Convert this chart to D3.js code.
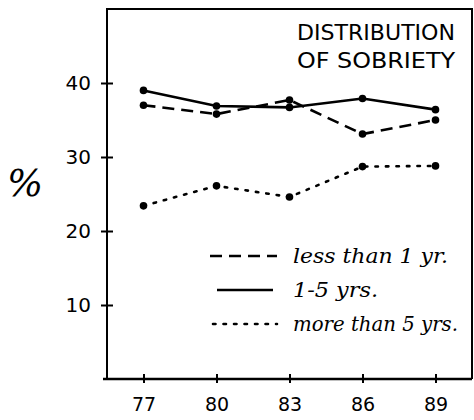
<!DOCTYPE html>
<html><head><meta charset="utf-8">
<script src="https://cdn.jsdelivr.net/npm/d3@7/dist/d3.min.js"></script>
<style>body{margin:0;background:#fff}svg{display:block}</style>
</head><body>
<svg id="c" width="474" height="420"></svg>
<script>
const years = [77, 80, 83, 86, 89];
const yTicks = [10, 20, 30, 40];
const lessThan1 = [37, 35.8, 37.7, 33.1, 35];
const oneToFive = [39, 36.9, 36.7, 37.9, 36.4];
const moreThan5 = [23.4, 26.1, 24.6, 28.7, 28.8];
const seriesNames = ["less than 1 yr.", "1-5 yrs.", "more than 5 yrs."];
const titleLines = ["DISTRIBUTION", "OF SOBRIETY"];

const svg = d3.select("#c");
const x = d3.scaleLinear().domain([75.5, 90.5]).range([107, 472]);
const y = d3.scaleLinear().domain([0, 50]).range([379, 9]);

const styles = [
  {dash: "12,7", w: 2.6},
  {dash: null, w: 2.6},
  {dash: "2.5,8", w: 2.6}
];
const series = [lessThan1, oneToFive, moreThan5];

// frame
svg.append("path").attr("d", `M${x.range()[0]},${y(0)} V${y.range()[1]} H${x.range()[1]} V${y(0)}`)
  .attr("fill","none").attr("stroke","#000").attr("stroke-width",2);
svg.append("line").attr("x1",103).attr("x2",472).attr("y1",y(0)).attr("y2",y(0))
  .attr("stroke","#000").attr("stroke-width",2.5);

// y axis ticks
const yAxis = d3.axisLeft(y).tickValues(yTicks).tickSize(0).tickPadding(16);
const gy = svg.append("g").attr("transform",`translate(${x.range()[0]},0)`).call(yAxis);
gy.select(".domain").remove();
gy.selectAll(".tick").append("line").attr("x1",-6).attr("x2",6).attr("stroke","#000").attr("stroke-width",2);
gy.selectAll("text").attr("font-family","DejaVu Sans").attr("font-size",20).attr("fill","#000");

// x axis ticks
const xAxis = d3.axisBottom(x).tickValues(years).tickSize(0).tickPadding(19);
const gx = svg.append("g").attr("transform",`translate(0,${y(0)})`).call(xAxis);
gx.select(".domain").remove();
gx.selectAll(".tick").append("line").attr("y1",-5).attr("y2",4).attr("stroke","#000").attr("stroke-width",2);
gx.selectAll("text").attr("font-family","DejaVu Sans").attr("font-size",19).attr("fill","#000");

// % label
svg.append("text").attr("x",25).attr("y",196).attr("text-anchor","middle")
  .attr("font-family","DejaVu Serif").attr("font-style","italic").attr("font-size",38).text("%");

// title
svg.append("g").selectAll("text").data(titleLines).join("text")
  .attr("x",455).attr("y",(d,i)=>40+i*28).attr("text-anchor","end")
  .attr("font-family","DejaVu Sans Condensed, DejaVu Sans").attr("font-size",21)
  .attr("textLength",158).attr("lengthAdjust","spacingAndGlyphs").text(d=>d);

// lines
const line = d3.line().x((d,i)=>x(years[i])).y(d=>y(d));
series.forEach((s,k)=>{
  svg.append("path").datum(s).attr("d",line).attr("fill","none").attr("stroke","#000")
    .attr("stroke-width",styles[k].w).attr("stroke-dasharray",styles[k].dash)
    .attr("stroke-linecap", k===2 ? "round" : "butt");
  svg.append("g").selectAll("circle").data(s).join("circle")
    .attr("cx",(d,i)=>x(years[i])).attr("cy",d=>y(d)).attr("r",3.8).attr("fill","#000");
});

// legend
const lg = svg.append("g");
const ly = [256, 290, 324];
const lx = [[210,277],[217,273],[213,277]];
const lw = [155, 85, 165];
seriesNames.forEach((n,k)=>{
  lg.append("line").attr("x1",lx[k][0]).attr("x2",lx[k][1]).attr("y1",ly[k]).attr("y2",ly[k])
    .attr("stroke","#000").attr("stroke-width",styles[k].w).attr("stroke-dasharray",styles[k].dash)
    .attr("stroke-linecap", k===2 ? "round" : "butt");
  lg.append("text").attr("x",293).attr("y",ly[k]+7)
    .attr("font-family","DejaVu Serif").attr("font-style","italic").attr("font-size",20)
    .attr("textLength",lw[k]).attr("lengthAdjust","spacingAndGlyphs").text(n);
});
</script>
</body></html>
